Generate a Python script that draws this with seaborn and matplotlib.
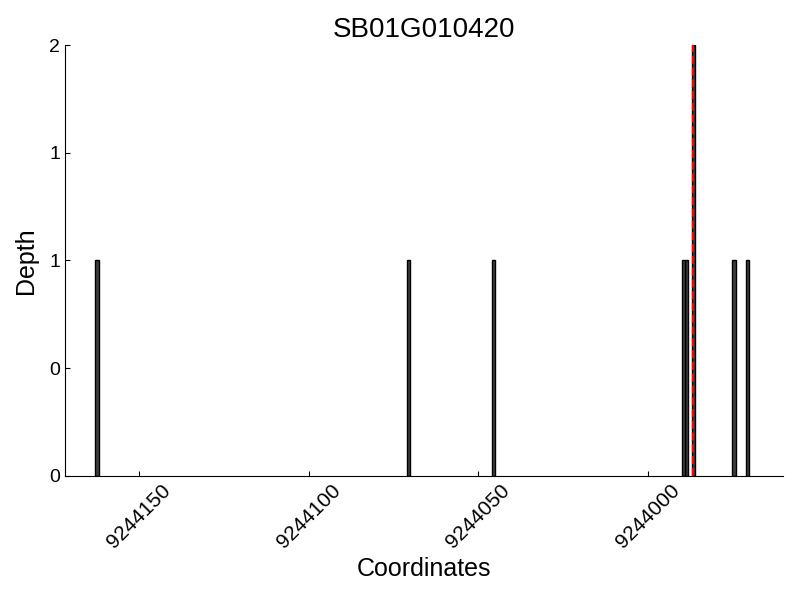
import pandas as pd
import matplotlib
matplotlib.use("Agg")
import matplotlib.pyplot as plt
import matplotlib.ticker as mticker
import seaborn as sns

# Read depth per coordinate
gene = "SB01G010420"
coords = [9244162, 9244070, 9244045, 9243989, 9243988, 9243986, 9243974, 9243970]
depth = [1, 1, 1, 1, 1, 2, 1, 1]
marker_pos = 9243986

df = pd.DataFrame({"Coordinates": coords, "Depth": depth})

sns.set_style("ticks")
plt.rcParams["font.family"] = ["Liberation Sans", "DejaVu Sans"]
plt.rcParams["text.color"] = "black"
plt.rcParams["axes.labelcolor"] = "black"
plt.rcParams["xtick.color"] = "black"
plt.rcParams["ytick.color"] = "black"
plt.rcParams["axes.edgecolor"] = "black"

fig = plt.figure(figsize=(8, 6), dpi=100)
ax = fig.add_axes([0.081, 0.207, 0.898, 0.718])

# one bin per base, bar covers [pos, pos+1]
sns.histplot(data=df, x="Coordinates", weights="Depth", binwidth=1,
             binrange=(min(coords), max(coords) + 1),
             color="#404040", edgecolor="black", linewidth=1, alpha=1, ax=ax)
for p in ax.patches:
    if p.get_height() == 0:
        p.set_visible(False)
ax.axvline(marker_pos + 0.5, color="red", linestyle="--", linewidth=1.6)

ax.set_xlim(max(coords) + 10, min(coords) - 10)
ax.set_ylim(0, 2)
ax.set_yticks([0, 0.5, 1, 1.5, 2])
ax.yaxis.set_major_formatter(mticker.FormatStrFormatter("%d"))
ax.xaxis.set_major_locator(mticker.MultipleLocator(50))
ax.xaxis.set_major_formatter(mticker.FormatStrFormatter("%d"))
ax.tick_params(direction="in", length=3.5, width=0.8)
ax.tick_params(axis="x", labelsize=15)
ax.tick_params(axis="y", labelsize=14)
plt.setp(ax.get_xticklabels(), rotation=45)

ax.set_title(gene, fontsize=20)
ax.set_xlabel("Coordinates", fontsize=18)
ax.set_ylabel("Depth", fontsize=18, labelpad=8)
sns.despine(ax=ax)

fig.savefig("out.png", dpi=100)
